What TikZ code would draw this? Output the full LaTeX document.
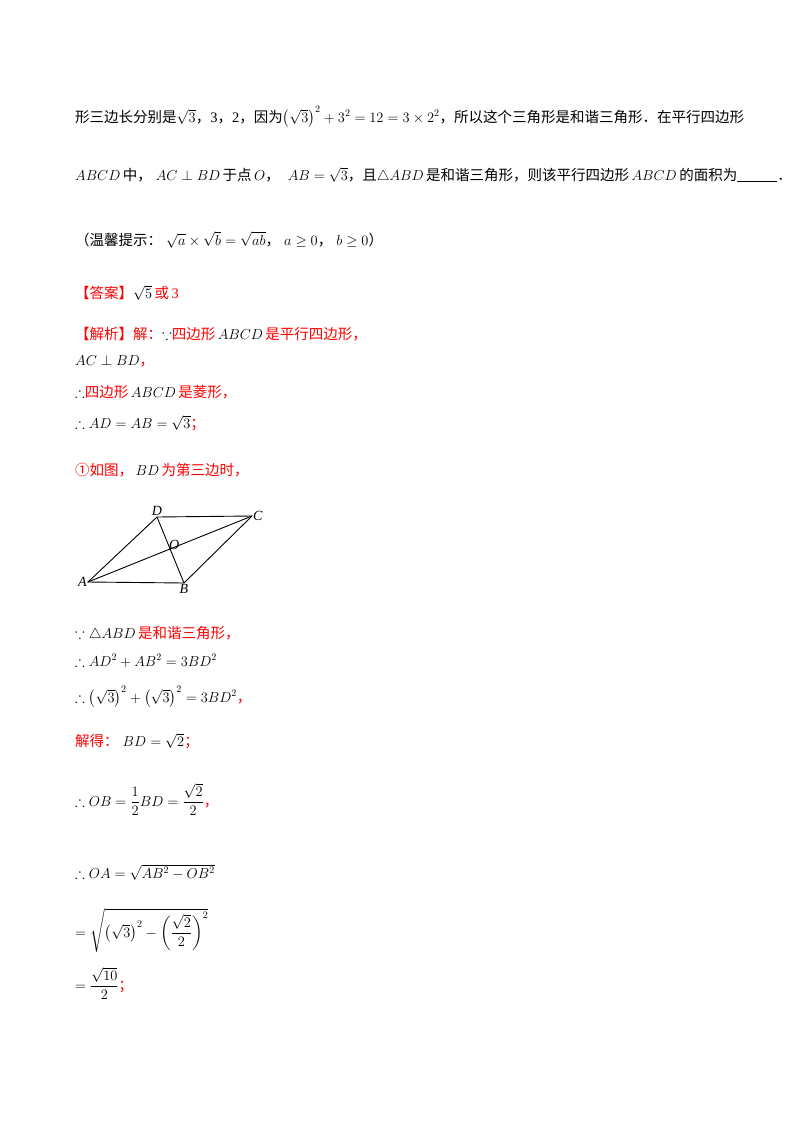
\documentclass[tikz,border=0pt]{standalone}
\usepackage{fontspec}
\usepackage{amsmath,amssymb}
\setmainfont{Liberation Serif}
\newfontfamily\cjk{Noto Sans CJK SC}
\newcommand{\zr}[1]{\textcolor{red}{\cjk #1}}
\newcommand{\zk}[1]{{\cjk #1}}
\begin{document}
\begin{tikzpicture}[x=1pt,y=-1pt,
  txt/.style={anchor=base west,inner sep=0pt,font=\fontsize{14.5}{17}\selectfont},
  ln/.style={line width=0.9pt},
  lab/.style={font=\fontsize{14}{15}\selectfont\itshape,inner sep=1pt}]
\useasboundingbox (0,0) rectangle (800,1132);
\node[txt] (l1) at (75,122) {\zk{形三边长分别是}$\sqrt{3}$\zk{，}3\zk{，}2\zk{，因为}$\left(\sqrt{3}\right)^2+3^2=12=3\times2^2$\zk{，所以这个三角形是和谐三角形．在平行四边形}};
\node[txt] (l2) at (75,180) {$ABCD$\,\zk{中，}\;$AC\perp BD$\,\zk{于点}$\,O$\zk{，}\;\;$AB=\sqrt{3}$\zk{，且}$\triangle ABD$\,\zk{是和谐三角形，则该平行四边形}\,$ABCD$\,\zk{的面积为}\rule[-2pt]{40pt}{1pt}\zk{．}};
\node[txt] (l3) at (75,245) {\zk{（温馨提示：}\;$\sqrt{a}\times\sqrt{b}=\sqrt{ab}$\zk{，}\;$a\ge0$\zk{，}\;$b\ge0$\zk{）}};
\node[txt] (ans) at (75,298) {\zr{【答案】}$\sqrt{5}$\,\textcolor{red}{\zk{或}\,3}};
\node[txt] (s1) at (75,339) {\zr{【解析】解：}$\because$\zr{四边形}\,$ABCD$\,\zr{是平行四边形，}};
\node[txt] (s2) at (75,365) {$AC\perp BD$\zr{，}};
\node[txt] (s3) at (75,397) {$\therefore$\zr{四边形}\,$ABCD$\,\zr{是菱形，}};
\node[txt] (s4) at (75,428) {$\therefore AD=AB=\sqrt{3}$\zr{；}};
\node[txt] (s5) at (75,475) {\zr{①如图，}\,$BD$\,\zr{为第三边时，}};
% diagram
\coordinate (A) at (88,582);
\coordinate (B) at (184,583);
\coordinate (C) at (252,516);
\coordinate (D) at (157,517);
\draw[ln] (A) -- (B) -- (C) -- (D) -- cycle;
\draw[ln] (A) -- (C) (B) -- (D);
\coordinate (O) at (intersection of A--C and B--D);
\node[lab,anchor=east] at (A) {A};
\node[lab,anchor=north] at (B) {B};
\node[lab,anchor=west] at (C) {C};
\node[lab,anchor=south] at (D) {D};
\node[lab,anchor=south] at ([xshift=4pt,yshift=-2pt]O) {O};
\node[txt] (t1) at (75,638) {$\because\triangle ABD$\,\zr{是和谐三角形，}};
\node[txt] (t2) at (75,666) {$\therefore AD^2+AB^2=3BD^2$};
\node[txt] (t3) at (75,702) {$\therefore\left(\sqrt{3}\right)^2+\left(\sqrt{3}\right)^2=3BD^2$\zr{，}};
\node[txt] (t4) at (75,746) {\zr{解得：}\;$BD=\sqrt{2}$\zr{；}};
\node[txt] (t5) at (75,806) {$\therefore OB=\dfrac{1}{2}BD=\dfrac{\sqrt{2}}{2}$\zr{，}};
\node[txt] (t6) at (75,878) {$\therefore OA=\sqrt{AB^2-OB^2}$};
\node[txt] (t7) at (75,937) {$=\sqrt{\left(\sqrt{3}\right)^2-\left(\dfrac{\sqrt{2}}{2}\right)^2}$};
\node[txt] (t8) at (75,990) {$=\dfrac{\sqrt{10}}{2}$\zr{；}};
\end{tikzpicture}
\end{document}
